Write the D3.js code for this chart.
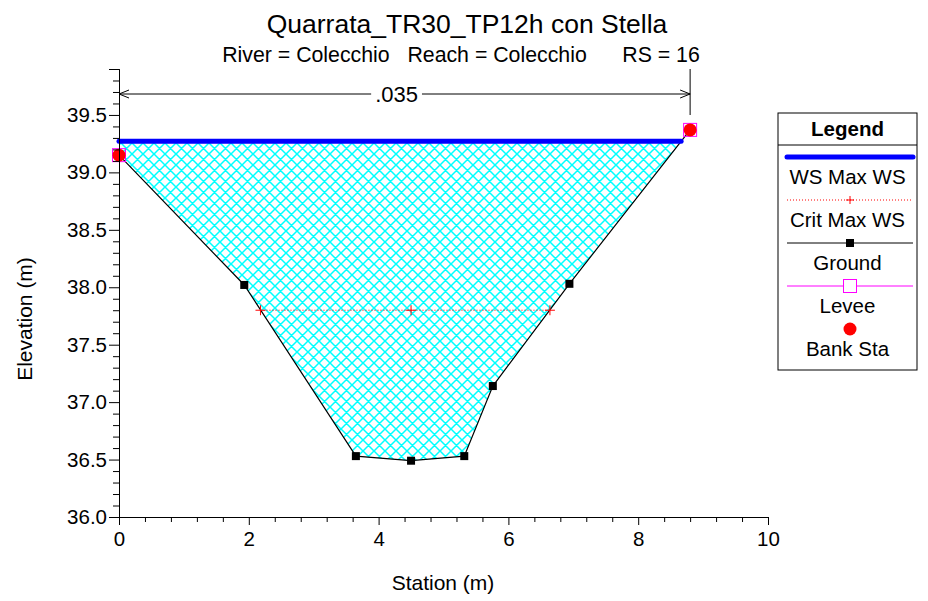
<!DOCTYPE html>
<meta charset="utf-8">
<script src="https://d3js.org/d3.v7.min.js"></script>
<style>
  body { margin: 0; background: white; }
  text { font-family: "Liberation Sans", Arial, sans-serif; }
</style>
<div id="chart"></div>
<script>
// cross section data (station m, elevation m)
const groundSta = [0, 1.93, 3.65, 4.5, 5.32, 5.76, 6.94, 8.8];
const groundElev = [39.15, 38.02, 36.53, 36.49, 36.53, 37.14, 38.03, 39.37];
const bankSta = [0, 8.8];
const bankElev = [39.15, 39.37];
const wsElev = 39.27;
const critElev = 37.8;
const critSta = [2.18, 4.5, 6.64];
const nValue = ".035";
const nRange = [0, 8.8];
const xTicks = [0, 2, 4, 6, 8, 10];
const yTicks = [36.0, 36.5, 37.0, 37.5, 38.0, 38.5, 39.0, 39.5];
const legendItems = ["WS Max WS", "Crit Max WS", "Ground", "Levee", "Bank Sta"];

const width = 928, height = 601;
const margin = {left: 119, top: 69};

const svg = d3.select("#chart").append("svg")
    .attr("width", width).attr("height", height);

const x = d3.scaleLinear().domain([0, 10]).range([margin.left, 768]);
const y = d3.scaleLinear().domain([36, 39.9]).range([517, margin.top]);

// hatch pattern
const hp = 11;
const pat = svg.append("defs").append("pattern")
    .attr("id", "hatch").attr("patternUnits", "userSpaceOnUse")
    .attr("width", hp).attr("height", hp);
pat.append("path")
    .attr("d", `M0,0L${hp},${hp}M0,${hp}L${hp},0M-2,2L2,-2M${hp - 2},${hp + 2}L${hp + 2},${hp - 2}M-2,${hp - 2}L2,${hp + 2}M${hp - 2},-2L${hp + 2},2`)
    .attr("stroke", "#00ffff").attr("stroke-width", 1.5);

// titles
svg.append("text").attr("x", 467).attr("y", 33).attr("text-anchor", "middle")
    .style("font-size", "26.5px").text("Quarrata_TR30_TP12h con Stella");
svg.append("text").attr("x", 461).attr("y", 62).attr("text-anchor", "middle")
    .style("font-size", "21.3px").style("white-space", "pre")
    .text("River = Colecchio   Reach = Colecchio      RS = 16");

// water fill polygon
const ground = groundSta.map((s, i) => [s, groundElev[i]]);
function crossing(level) {
  for (let i = ground.length - 1; i > 0; i--) {
    const a = ground[i - 1], b = ground[i];
    if ((a[1] - level) * (b[1] - level) <= 0 && a[1] !== b[1]) {
      return a[0] + (level - a[1]) / (b[1] - a[1]) * (b[0] - a[0]);
    }
  }
  return ground[ground.length - 1][0];
}
const wsRight = crossing(wsElev);
const poly = [[0, wsElev], [wsRight, wsElev]];
ground.filter(p => p[0] < wsRight).reverse().forEach(p => poly.push(p));
svg.append("path")
    .attr("d", d3.line().x(d => x(d[0])).y(d => y(d[1]))(poly) + "Z")
    .attr("fill", "url(#hatch)");

// ground line
svg.append("path")
    .attr("d", d3.line().x(d => x(d[0])).y(d => y(d[1]))(ground))
    .attr("fill", "none").attr("stroke", "black").attr("stroke-width", 1.2);

// crit line
svg.append("line")
    .attr("x1", x(critSta[0])).attr("x2", x(critSta[critSta.length - 1]))
    .attr("y1", y(critElev)).attr("y2", y(critElev))
    .attr("stroke", "red").attr("stroke-width", 1).attr("stroke-dasharray", "1,2");
svg.selectAll(".crit").data(critSta).join("path")
    .attr("d", d => `M${x(d) - 5},${y(critElev)}h10M${x(d)},${y(critElev) - 5}v10`)
    .attr("stroke", "red").attr("stroke-width", 1);

// ws line
svg.append("line")
    .attr("x1", x(0)).attr("x2", x(wsRight))
    .attr("y1", y(wsElev)).attr("y2", y(wsElev))
    .attr("stroke", "#0000ff").attr("stroke-width", 5).attr("stroke-linecap", "round");

// ground markers (not at bank stations)
svg.selectAll(".gm").data(ground.slice(1, -1)).join("rect")
    .attr("x", d => x(d[0]) - 4).attr("y", d => y(d[1]) - 4)
    .attr("width", 8).attr("height", 8).attr("fill", "black");

// levee squares and bank circles
svg.selectAll(".lev").data(bankSta).join("rect")
    .attr("x", (d, i) => x(d) - 6.5).attr("y", (d, i) => y(bankElev[i]) - 6.5)
    .attr("width", 13).attr("height", 13).attr("fill", "none")
    .attr("stroke", "#ff00ff").attr("stroke-width", 1);
svg.selectAll(".bank").data(bankSta).join("circle")
    .attr("cx", d => x(d)).attr("cy", (d, i) => y(bankElev[i]))
    .attr("r", 6.5).attr("fill", "red");

// axes
const yAxis = svg.append("g").attr("transform", `translate(${x(0)},0)`);
yAxis.call(d3.axisLeft(y).tickValues(d3.range(36.1, 39.85, 0.1).filter(v => Math.abs(v * 2 - Math.round(v * 2)) > 0.01))
    .tickSize(6).tickFormat(""));
yAxis.call(g => g.append("g").call(d3.axisLeft(y).tickValues(yTicks).tickSize(10).tickFormat(d3.format(".1f"))));
yAxis.selectAll("text").style("font-size", "20.5px").attr("fill", "black").attr("x", -12);

const xAxis = svg.append("g").attr("transform", `translate(0,${y(36)})`);
xAxis.call(d3.axisBottom(x).tickValues(d3.range(0.4, 10, 0.4).filter(v => Math.abs(v / 2 - Math.round(v / 2)) > 0.01))
    .tickSize(5).tickFormat(""));
xAxis.call(g => g.append("g").call(d3.axisBottom(x).tickValues(xTicks).tickSize(8).tickFormat(d3.format("d"))));
xAxis.selectAll("text").style("font-size", "20.5px").attr("fill", "black").attr("y", 14);

svg.append("text").attr("x", 443).attr("y", 590).attr("text-anchor", "middle")
    .style("font-size", "21px").text("Station (m)");
svg.append("text").attr("transform", "translate(32,319) rotate(-90)").attr("text-anchor", "middle")
    .style("font-size", "21px").text("Elevation (m)");

// n value dimension
const dimY = 94;
svg.append("line").attr("x1", x(nRange[1])).attr("x2", x(nRange[1]))
    .attr("y1", 69).attr("y2", 115).attr("stroke", "black");
const mid = (x(nRange[0]) + x(nRange[1])) / 2 - 8;
const nText = svg.append("text").attr("x", mid).attr("y", dimY + 8)
    .attr("text-anchor", "middle").style("font-size", "22px").text(nValue);
const tw = nText.node().getBBox().width;
svg.append("path")
    .attr("d", `M${x(nRange[0])},${dimY}H${mid - tw / 2 - 4}M${mid + tw / 2 + 4},${dimY}H${x(nRange[1])}` +
      `M${x(nRange[0]) + 10},${dimY - 4}L${x(nRange[0])},${dimY}L${x(nRange[0]) + 10},${dimY + 4}` +
      `M${x(nRange[1]) - 10},${dimY - 4}L${x(nRange[1])},${dimY}L${x(nRange[1]) - 10},${dimY + 4}`)
    .attr("fill", "none").attr("stroke", "black");

// legend
const lg = svg.append("g").attr("transform", "translate(778,113)");
lg.append("rect").attr("width", 139).attr("height", 257).attr("fill", "white").attr("stroke", "black");
lg.append("line").attr("x1", 0).attr("x2", 139).attr("y1", 32).attr("y2", 32).attr("stroke", "black");
lg.append("text").attr("x", 69.5).attr("y", 23).attr("text-anchor", "middle")
    .style("font-size", "20.5px").style("font-weight", "bold").text("Legend");
const lx1 = 9, lx2 = 135, cx = 72;
legendItems.forEach((name, i) => {
  const ly = 44 + i * 43;
  const item = lg.append("g");
  if (i === 0) item.append("line").attr("x1", lx1).attr("x2", lx2).attr("y1", ly).attr("y2", ly)
      .attr("stroke", "#0000ff").attr("stroke-width", 5).attr("stroke-linecap", "round");
  if (i === 1) {
    item.append("line").attr("x1", lx1).attr("x2", lx2).attr("y1", ly).attr("y2", ly)
      .attr("stroke", "red").attr("stroke-dasharray", "1,2");
    item.append("path").attr("d", `M${cx - 4},${ly}h8M${cx},${ly - 4}v8`).attr("stroke", "red");
  }
  if (i === 2) {
    item.append("line").attr("x1", lx1).attr("x2", lx2).attr("y1", ly).attr("y2", ly).attr("stroke", "black");
    item.append("rect").attr("x", cx - 4).attr("y", ly - 4).attr("width", 8).attr("height", 8);
  }
  if (i === 3) {
    item.append("line").attr("x1", lx1).attr("x2", lx2).attr("y1", ly).attr("y2", ly).attr("stroke", "#ff00ff");
    item.append("rect").attr("x", cx - 6.5).attr("y", ly - 6.5).attr("width", 13).attr("height", 13)
      .attr("fill", "white").attr("stroke", "#ff00ff");
  }
  if (i === 4) item.append("circle").attr("cx", cx).attr("cy", ly).attr("r", 6.5).attr("fill", "red");
  item.append("text").attr("x", 69.5).attr("y", ly + 27).attr("text-anchor", "middle")
      .style("font-size", "20.5px").text(name);
});
</script>
